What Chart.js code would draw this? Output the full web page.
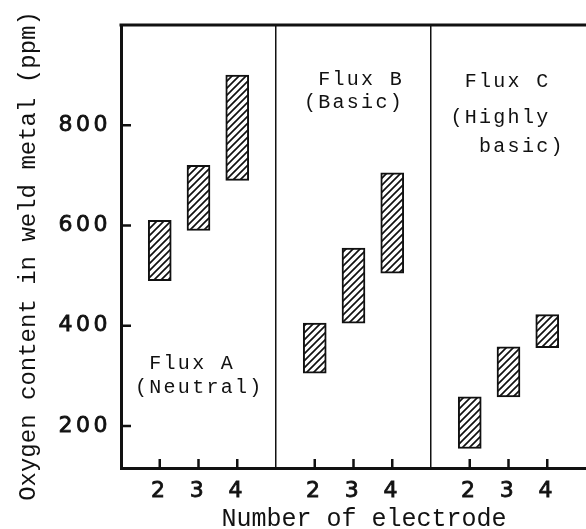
<!DOCTYPE html>
<html lang="en">
<head>
  <meta charset="UTF-8">
  <title>Oxygen content in weld metal</title>
  <script src="https://cdn.jsdelivr.net/npm/chart.js"></script>
  <style>
    html, body {
      margin: 0;
      padding: 0;
      background: #fff;
    }

    #chart-container {
      width: 586px;
      height: 529px;
    }
  </style>
</head>
<body>

  <div id="chart-container">
    <canvas id="oxygenChart" width="586" height="529"></canvas>
  </div>

  <script>
    // number of electrodes, repeated in each flux panel
    const electrodes = ['2', '3', '4'];

    // oxygen range in weld metal (ppm): bottom and top of each bar
    const fluxALow  = [490, 590, 690];
    const fluxAHigh = [610, 720, 900];
    const fluxBLow  = [305, 405, 505];
    const fluxBHigh = [405, 555, 705];
    const fluxCLow  = [155, 258, 356];
    const fluxCHigh = [258, 358, 422];

    const yTicks = [200, 400, 600, 800];

    const yTitle = 'Oxygen content in weld metal (ppm)';
    const xTitle = 'Number of electrode';

    // panel captions
    const captionA = [' Flux A', '(Neutral)'];
    const captionB = [' Flux B', '(Basic)'];
    const captionC = [' Flux C', '(Highly', '  basic)'];

    const ink = '#111';

    // one empty slot between panels, the panel dividers sit on them
    const labels = [''].concat(electrodes, [''], electrodes, [''], electrodes, ['']);

    function ranges(low, high) {
      return low.map((v, i) => [v, high[i]]);
    }
    const barData = [null].concat(
      ranges(fluxALow, fluxAHigh), [null],
      ranges(fluxBLow, fluxBHigh), [null],
      ranges(fluxCLow, fluxCHigh), [null]
    );

    const canvas = document.getElementById('oxygenChart');
    const ctx = canvas.getContext('2d');

    // diagonal hatching like the printed figure
    function hatchPattern() {
      const s = 7;
      const tile = document.createElement('canvas');
      tile.width = s;
      tile.height = s;
      const g = tile.getContext('2d');
      g.fillStyle = '#fff';
      g.fillRect(0, 0, s, s);
      g.strokeStyle = ink;
      g.lineWidth = 1.7;
      g.beginPath();
      g.moveTo(0, s); g.lineTo(s, 0);
      g.moveTo(-1, 1); g.lineTo(1, -1);
      g.moveTo(s - 1, s + 1); g.lineTo(s + 1, s - 1);
      g.stroke();
      return ctx.createPattern(tile, 'repeat');
    }

    const decorations = {
      id: 'decorations',
      beforeDraw(chart) {
        chart.ctx.letterSpacing = '3.5px';
      },
      afterDraw(chart) {
        const { ctx, chartArea: a, scales: { x, y } } = chart;
        ctx.save();
        ctx.letterSpacing = '0px';
        ctx.strokeStyle = ink;
        ctx.fillStyle = ink;

        // top frame line (no right edge in the original crop)
        ctx.lineWidth = 3;
        ctx.beginPath();
        ctx.moveTo(a.left - 1.5, a.top);
        ctx.lineTo(chart.width, a.top);
        ctx.stroke();

        // ticks point into the plot
        ctx.lineWidth = 2.5;
        ctx.beginPath();
        yTicks.forEach(v => {
          const py = y.getPixelForValue(v);
          ctx.moveTo(a.left, py);
          ctx.lineTo(a.left + 10, py);
        });
        labels.forEach((l, i) => {
          if (!l) return;
          const px = x.getPixelForValue(i);
          ctx.moveTo(px, a.bottom);
          ctx.lineTo(px, a.bottom - 9);
        });
        ctx.stroke();

        // captions inside the panels
        ctx.font = '20px "Liberation Mono"';
        ctx.letterSpacing = '2.3px';
        ctx.textAlign = 'left';
        ctx.textBaseline = 'middle';
        const put = (lines, xi, ys) => lines.forEach((t, k) => {
          ctx.fillText(t, x.getPixelForValue(xi), y.getPixelForValue(ys[k]));
        });
        put(captionA, 0.36, [324, 276]);
        put(captionB, 4.72, [890, 845]);
        put(captionC, 8.5, [886, 816, 758]);

        // axis titles
        ctx.letterSpacing = '0px';
        ctx.font = '24px "Liberation Mono"';
        ctx.textAlign = 'center';
        ctx.textBaseline = 'alphabetic';
        ctx.save();
        ctx.translate(35, 256);
        ctx.rotate(-Math.PI / 2);
        ctx.fillText(yTitle, 0, 0);
        ctx.restore();

        ctx.font = '25px "Liberation Mono"';
        ctx.fillText(xTitle, 364, 526);

        ctx.restore();
      }
    };

    const tickFont = { family: 'DejaVu Sans', size: 22 };

    new Chart(ctx, {
      type: 'bar',
      data: {
        labels: labels,
        datasets: [{
          data: barData,
          backgroundColor: hatchPattern(),
          borderColor: ink,
          borderWidth: 2,
          borderSkipped: false,
          barThickness: 23
        }]
      },
      plugins: [decorations],
      options: {
        responsive: false,
        animation: false,
        devicePixelRatio: 1,
        layout: { padding: { top: 25, right: 0, bottom: 0, left: 0 } },
        plugins: {
          legend: { display: false },
          tooltip: { enabled: false }
        },
        scales: {
          x: {
            type: 'category',
            offset: false,
            grid: {
              offset: false,
              drawTicks: false,
              lineWidth: 1.5,
              color: c => (c.index === 4 || c.index === 8) ? ink : 'rgba(0,0,0,0)'
            },
            border: { display: true, color: ink, width: 3 },
            ticks: {
              autoSkip: false,
              maxRotation: 0,
              minRotation: 0,
              padding: 10,
              color: ink,
              textStrokeColor: ink,
              textStrokeWidth: 0.8,
              font: tickFont
            },
            afterFit(scale) {
              scale.height = 61;
              scale.paddingLeft = 0;
              scale.paddingRight = 0;
            }
          },
          y: {
            min: 116,
            max: 1000,
            grid: { display: false, drawTicks: false },
            border: { display: true, color: ink, width: 3 },
            afterBuildTicks(scale) {
              scale.ticks = yTicks.map(v => ({ value: v }));
            },
            ticks: {
              padding: 10,
              color: ink,
              textStrokeColor: ink,
              textStrokeWidth: 0.8,
              font: tickFont
            },
            afterFit(scale) {
              scale.width = 121;
              scale.paddingTop = 0;
              scale.paddingBottom = 0;
            }
          }
        }
      }
    });
  </script>

</body>
</html>
